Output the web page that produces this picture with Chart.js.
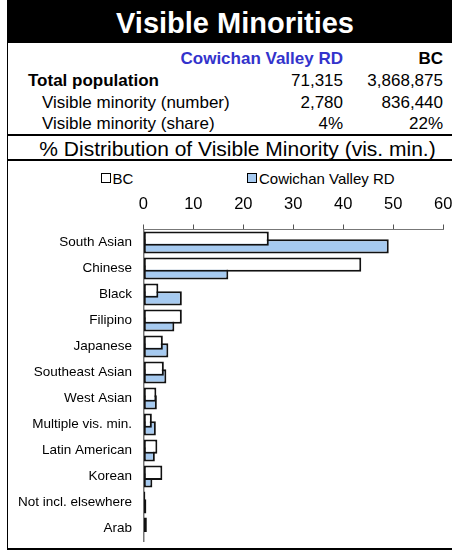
<!DOCTYPE html>
<html>
<head>
<meta charset="utf-8">
<script src="https://cdn.jsdelivr.net/npm/chart.js@4"></script>
<style>
  body { margin: 0; width: 452px; height: 550px; background: #fff; overflow: hidden; position: relative; font-family: "Liberation Sans", Arial, sans-serif; }
  .abs { position: absolute; line-height: 1; white-space: nowrap; }
  .line { position: absolute; background: #000; }
  .r1 { text-align: right; width: 200px; left: 143px; }
  .r2 { text-align: right; width: 200px; left: 243px; }
  .leg-box { position: absolute; width: 8px; height: 8px; border: 1px solid #000; }
</style>
</head>
<body>
<div class="line" style="left:7px; top:0; width:445px; height:43px;"></div>
<div class="abs" style="left:0; width:470px; text-align:center; top:9px; font-size:29px; font-weight:bold; color:#fff;">Visible Minorities</div>

<div class="abs r1" style="top:49.6px; font-size:17px; font-weight:bold; color:#3333cc;">Cowichan Valley RD</div>
<div class="abs r2" style="top:49.6px; font-size:17px; font-weight:bold;">BC</div>
<div class="abs" style="left:28px; top:72.3px; font-size:17px; font-weight:bold;">Total population</div>
<div class="abs r1" style="top:72.3px; font-size:17px;">71,315</div>
<div class="abs r2" style="top:72.3px; font-size:17px;">3,868,875</div>
<div class="abs" style="left:42px; top:94.3px; font-size:17px;">Visible minority (number)</div>
<div class="abs r1" style="top:94.3px; font-size:17px;">2,780</div>
<div class="abs r2" style="top:94.3px; font-size:17px;">836,440</div>
<div class="abs" style="left:42px; top:115.3px; font-size:17px;">Visible minority (share)</div>
<div class="abs r1" style="top:115.3px; font-size:17px;">4%</div>
<div class="abs r2" style="top:115.3px; font-size:17px;">22%</div>

<div class="line" style="left:7px; top:134px; width:445px; height:2px;"></div>
<div class="abs" style="left:0; width:475px; text-align:center; top:137.5px; font-size:21px;">% Distribution of Visible Minority (vis. min.)</div>
<div class="line" style="left:7px; top:159px; width:445px; height:2px;"></div>

<div id="legend"></div>

<canvas id="grafico" style="position:absolute; left:6px; top:161px;"></canvas>
<div class="line" style="left:7px; top:43px; width:1px; height:507px;"></div>
<div class="line" style="left:7px; top:548px; width:445px; height:2px;"></div>

<script>
var categories = ['South Asian', 'Chinese', 'Black', 'Filipino', 'Japanese', 'Southeast Asian',
  'West Asian', 'Multiple vis. min.', 'Latin American', 'Korean', 'Not incl. elsewhere', 'Arab'];
var bcValues = [25.1, 43.6, 3.0, 7.7, 3.9, 4.1, 2.6, 1.7, 2.8, 3.8, 0.4, 0.7];
var cowichanValues = [49.1, 17.0, 7.7, 6.2, 5.0, 4.6, 2.7, 2.5, 2.3, 1.8, 0.6, 0];
var seriesNames = ['BC', 'Cowichan Valley RD'];
var xMin = 0;
var xMax = 60;
var xStep = 10;

var seriesColors = ['#ffffff', '#a6caf0'];
var fontFamily = '"Liberation Sans", Arial, sans-serif';

window.addEventListener('load', drawChart);

function drawChart() {
  // legend drawn as html, two items spaced like the original
  var legend = document.getElementById('legend');
  var legendX = [[101, 112.5], [246.5, 259]];
  seriesNames.forEach(function (name, i) {
    var box = document.createElement('div');
    box.className = 'leg-box';
    box.style.left = legendX[i][0] + 'px';
    box.style.top = '173px';
    box.style.background = seriesColors[i];
    legend.appendChild(box);
    var txt = document.createElement('div');
    txt.className = 'abs';
    txt.style.left = legendX[i][1] + 'px';
    txt.style.top = '170.5px';
    txt.style.fontSize = '15px';
    txt.textContent = name;
    legend.appendChild(txt);
  });

  // canvas runs a bit past the window on the right and bottom, the extra is clipped
  var canvas = document.getElementById('grafico');
  canvas.setAttribute('width', 457);
  canvas.setAttribute('height', 400);
  var ctx = canvas.getContext('2d');

  var data = {
    labels: categories,
    datasets: [{
      label: seriesNames[0],
      data: bcValues,
      backgroundColor: seriesColors[0],
      borderColor: '#111',
      borderWidth: 2,
      borderSkipped: false,
      categoryPercentage: 0.59,
      barPercentage: 1.86
    }, {
      label: seriesNames[1],
      data: cowichanValues,
      backgroundColor: seriesColors[1],
      borderColor: '#111',
      borderWidth: 2,
      borderSkipped: false,
      categoryPercentage: 0.59,
      barPercentage: 1.86
    }]
  };

  var options = {
    indexAxis: 'y',
    responsive: false,
    animation: false,
    layout: { padding: { top: 22.5, bottom: 0, left: 0.7, right: 0 } },
    plugins: { legend: { display: false }, tooltip: { enabled: false } },
    scales: {
      x: {
        position: 'top',
        min: xMin,
        max: xMax,
        ticks: { stepSize: xStep, color: '#000', padding: 10.6, font: { size: 16.5, family: fontFamily } },
        grid: { drawOnChartArea: false, tickLength: 5, color: '#555' },
        border: { color: '#777', width: 1 }
      },
      y: {
        ticks: { color: '#000', padding: 11.3, autoSkip: false, font: { size: 13.5, family: fontFamily } },
        grid: { display: false, drawTicks: false },
        border: { color: '#777', width: 1.5 }
      }
    }
  };

  var chart = new Chart(ctx, { type: 'bar', data: data, options: options });
}
</script>
</body>
</html>
